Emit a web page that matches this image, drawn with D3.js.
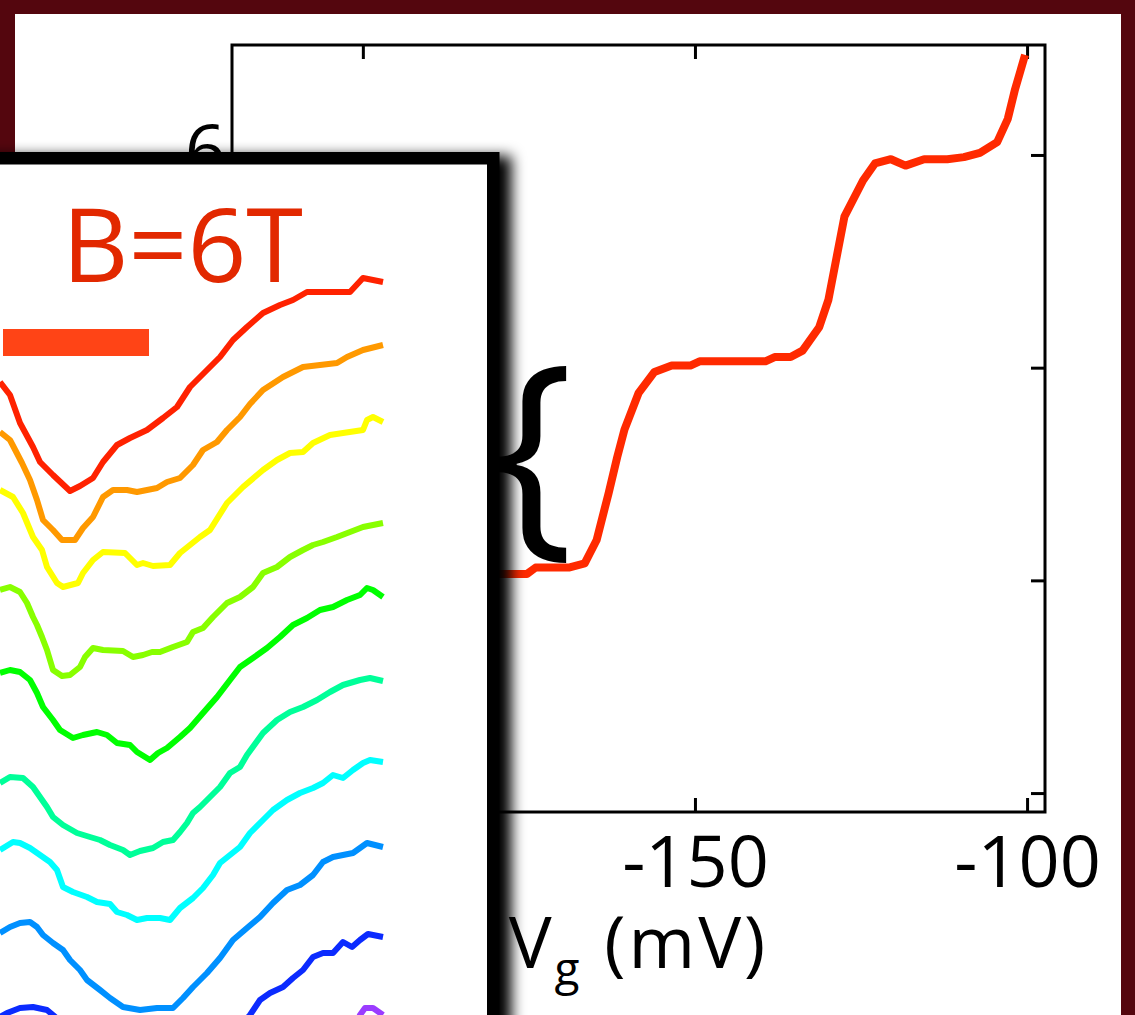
<!DOCTYPE html>
<html>
<head>
<meta charset="utf-8">
<script src="https://cdn.jsdelivr.net/npm/d3@7"></script>
<style>
  body { margin: 0; background: #fff; }
  svg { display: block; }
</style>
</head>
<body>
<div id="chart"></div>
<script>
const width = 1135;
const height = 1015;
const FONT = "'Open Sans', 'Noto Sans', sans-serif";

// main curve: gate voltage (mV) against conductance
const gateVoltage = [-188.4, -179.2, -175.3, -174.0, -169.0, -166.6, -164.8, -163.0, -161.7, -160.6,
  -158.5, -156.1, -153.5, -150.7, -149.3, -139.4, -138.0, -135.6, -133.8, -131.3,
  -129.9, -127.5, -124.7, -122.9, -120.5, -118.3, -115.5, -112.0, -109.5, -107.1,
  -104.5, -102.9, -101.8, -100.3];
const conductance = [4.03, 4.03, 4.03, 4.06, 4.06, 4.08, 4.19, 4.41, 4.58, 4.71,
  4.88, 4.98, 5.01, 5.01, 5.03, 5.03, 5.05, 5.05, 5.08, 5.19,
  5.32, 5.71, 5.88, 5.96, 5.98, 5.95, 5.98, 5.98, 5.99, 6.01,
  6.06, 6.17, 6.31, 6.47];
const xTicks = [-200, -150, -100];
const yTicks = [3, 4, 5, 6];

// inset: dI/dV traces (bias, signal) from top to bottom
const insetColors = ['#ff2200', '#ff9900', '#ffff00', '#88ff00', '#00ff00',
  '#00ff99', '#00ffff', '#0090ff', '#0b2bff', '#9b3cff'];
const traceRed = [[0, 6.33], [0.10, 6.20], [0.20, 5.92], [0.33, 5.68], [0.40, 5.53], [0.53, 5.40], [0.70, 5.24],
  [0.80, 5.29], [0.93, 5.37], [1.03, 5.53], [1.17, 5.70], [1.30, 5.77], [1.47, 5.85], [1.63, 5.97], [1.77, 6.08],
  [1.90, 6.28], [2.07, 6.45], [2.20, 6.58], [2.33, 6.75], [2.47, 6.88], [2.63, 7.02], [2.80, 7.10], [2.93, 7.15],
  [3.07, 7.23], [3.50, 7.23], [3.63, 7.37], [3.73, 7.35], [3.83, 7.33]];
const traceOrange = [[0, 5.83], [0.10, 5.75], [0.22, 5.52], [0.30, 5.35], [0.37, 5.15], [0.43, 4.95], [0.53, 4.85],
  [0.62, 4.75], [0.75, 4.75], [0.83, 4.87], [0.93, 4.98], [1.03, 5.18], [1.13, 5.25], [1.27, 5.25], [1.37, 5.23],
  [1.57, 5.27], [1.67, 5.33], [1.80, 5.37], [1.93, 5.50], [2.03, 5.65], [2.17, 5.73], [2.27, 5.85], [2.40, 5.98],
  [2.50, 6.11], [2.63, 6.25], [2.83, 6.38], [3.03, 6.48], [3.37, 6.52], [3.47, 6.58], [3.63, 6.65], [3.83, 6.70]];
const traceYellow = [[0, 5.25], [0.13, 5.18], [0.23, 5.02], [0.33, 4.78], [0.42, 4.65], [0.47, 4.48], [0.57, 4.32],
  [0.63, 4.28], [0.78, 4.32], [0.83, 4.42], [0.93, 4.55], [1.03, 4.63], [1.25, 4.62], [1.37, 4.50], [1.43, 4.52],
  [1.53, 4.49], [1.70, 4.50], [1.80, 4.62], [2.00, 4.78], [2.10, 4.85], [2.27, 5.12], [2.43, 5.28], [2.63, 5.45],
  [2.77, 5.55], [2.90, 5.62], [3.03, 5.63], [3.13, 5.72], [3.30, 5.80], [3.43, 5.82], [3.63, 5.85], [3.67, 5.95],
  [3.73, 5.98], [3.83, 5.93]];
const traceLime = [[0, 4.25], [0.10, 4.28], [0.20, 4.23], [0.27, 4.12], [0.33, 3.98], [0.37, 3.90], [0.42, 3.78],
  [0.47, 3.65], [0.53, 3.45], [0.62, 3.39], [0.70, 3.40], [0.80, 3.48], [0.85, 3.58], [0.93, 3.67], [1.03, 3.65],
  [1.23, 3.64], [1.33, 3.58], [1.43, 3.60], [1.52, 3.63], [1.60, 3.63], [1.73, 3.68], [1.87, 3.73], [1.93, 3.83],
  [2.03, 3.87], [2.13, 3.98], [2.27, 4.12], [2.40, 4.18], [2.53, 4.28], [2.63, 4.42], [2.77, 4.48], [2.90, 4.58],
  [3.03, 4.65], [3.13, 4.70], [3.23, 4.73], [3.37, 4.78], [3.50, 4.83], [3.63, 4.88], [3.83, 4.92]];
const traceGreen = [[0, 3.42], [0.10, 3.45], [0.20, 3.43], [0.30, 3.35], [0.37, 3.22], [0.43, 3.08], [0.53, 2.95],
  [0.60, 2.85], [0.73, 2.77], [0.83, 2.80], [0.97, 2.83], [1.07, 2.80], [1.17, 2.72], [1.30, 2.70], [1.37, 2.63],
  [1.50, 2.55], [1.58, 2.62], [1.67, 2.67], [1.80, 2.78], [1.90, 2.87], [2.03, 3.02], [2.17, 3.18], [2.30, 3.35],
  [2.40, 3.48], [2.53, 3.57], [2.67, 3.67], [2.80, 3.78], [2.93, 3.90], [3.07, 3.97], [3.20, 4.05], [3.33, 4.08],
  [3.47, 4.15], [3.60, 4.20], [3.67, 4.27], [3.73, 4.25], [3.83, 4.18]];
const traceSpring = [[0, 2.32], [0.10, 2.38], [0.23, 2.37], [0.33, 2.28], [0.40, 2.18], [0.47, 2.08], [0.53, 1.98],
  [0.63, 1.90], [0.77, 1.82], [0.90, 1.78], [1.00, 1.75], [1.10, 1.70], [1.23, 1.65], [1.30, 1.60], [1.40, 1.64],
  [1.53, 1.67], [1.63, 1.73], [1.73, 1.75], [1.80, 1.83], [1.87, 1.92], [1.93, 2.02], [2.00, 2.08], [2.10, 2.18],
  [2.20, 2.28], [2.30, 2.42], [2.40, 2.48], [2.47, 2.60], [2.63, 2.82], [2.77, 2.95], [2.90, 3.03], [3.03, 3.08],
  [3.17, 3.15], [3.30, 3.23], [3.43, 3.30], [3.60, 3.35], [3.70, 3.37], [3.83, 3.34]];
const traceCyan = [[0, 1.65], [0.13, 1.73], [0.20, 1.72], [0.30, 1.67], [0.40, 1.60], [0.50, 1.53], [0.57, 1.45],
  [0.63, 1.28], [0.73, 1.23], [0.87, 1.18], [0.97, 1.13], [1.10, 1.11], [1.17, 1.03], [1.27, 1.00], [1.37, 0.95],
  [1.47, 0.97], [1.60, 0.97], [1.70, 0.95], [1.80, 1.07], [1.93, 1.17], [2.03, 1.27], [2.13, 1.40], [2.20, 1.52],
  [2.30, 1.60], [2.40, 1.68], [2.50, 1.82], [2.63, 1.95], [2.73, 2.05], [2.87, 2.15], [3.00, 2.22], [3.13, 2.27],
  [3.23, 2.32], [3.33, 2.40], [3.43, 2.37], [3.53, 2.45], [3.63, 2.52], [3.70, 2.55], [3.83, 2.53]];
const traceAzure = [[0, 0.82], [0.10, 0.88], [0.20, 0.92], [0.30, 0.93], [0.37, 0.88], [0.43, 0.80], [0.53, 0.72],
  [0.63, 0.65], [0.70, 0.55], [0.80, 0.45], [0.87, 0.35], [1.00, 0.25], [1.10, 0.17], [1.23, 0.08], [1.40, 0.05],
  [1.57, 0.07], [1.73, 0.07], [1.83, 0.17], [1.93, 0.28], [2.07, 0.42], [2.20, 0.57], [2.33, 0.75], [2.47, 0.87],
  [2.60, 0.98], [2.73, 1.12], [2.87, 1.25], [3.00, 1.30], [3.13, 1.40], [3.23, 1.53], [3.33, 1.58], [3.53, 1.62],
  [3.67, 1.72], [3.83, 1.68]];
const traceBlue = [[0, -0.02], [0.07, 0.02], [0.20, 0.07], [0.33, 0.08], [0.47, 0.05], [0.53, 0.00], [0.70, -0.15],
  [1.00, -0.40], [1.40, -0.60], [1.80, -0.55], [2.20, -0.35], [2.50, 0.00], [2.60, 0.15], [2.70, 0.22], [2.83, 0.28],
  [2.93, 0.37], [3.03, 0.45], [3.13, 0.58], [3.23, 0.62], [3.33, 0.62], [3.43, 0.73], [3.52, 0.68], [3.60, 0.75],
  [3.68, 0.81], [3.83, 0.78]];
const tracePurple = [[3.00, -0.85], [3.40, -0.45], [3.60, 0.00], [3.65, 0.07], [3.73, 0.07], [3.83, 0.00]];
const insetTraces = [traceRed, traceOrange, traceYellow, traceLime, traceGreen,
  traceSpring, traceCyan, traceAzure, traceBlue, tracePurple];
const insetLabel = 'B=6T';
const scaleBar = [[0.03, 6.86], [1.49, 6.59]];

const svg = d3.select('#chart')
  .append('svg')
  .attr('width', width)
  .attr('height', height);

const defs = svg.append('defs');
defs.append('filter')
  .attr('id', 'shadow')
  .attr('x', '-20%').attr('y', '-20%')
  .attr('width', '140%').attr('height', '140%')
  .append('feDropShadow')
    .attr('dx', 12)
    .attr('dy', 4)
    .attr('stdDeviation', 7)
    .attr('flood-color', '#000')
    .attr('flood-opacity', 1);

// maroon frame round a white page
svg.append('rect').attr('width', width).attr('height', height).attr('fill', '#54060e');
svg.append('rect')
  .attr('x', 15).attr('y', 14)
  .attr('width', 1121 - 15).attr('height', height)
  .attr('fill', '#fff');

// ---- main plot ----
const plot = { left: 232, right: 1045, top: 45, bottom: 812 };
const x = d3.scaleLinear().domain([-219.7, -97.3]).range([plot.left, plot.right]);
const y = d3.scaleLinear().domain([2.911, 6.517]).range([plot.bottom, plot.top]);

const styleAxis = (g) => {
  g.select('.domain').remove();
  g.selectAll('line').attr('stroke', '#000').attr('stroke-width', 3);
  g.selectAll('text')
    .attr('font-family', FONT)
    .attr('font-size', 72)
    .attr('fill', '#000');
};

svg.append('g')
  .attr('transform', `translate(0,${plot.bottom})`)
  .call(d3.axisBottom(x).tickValues(xTicks).tickSize(-14).tickSizeOuter(0).tickFormat((d) => String(d)))
  .call(styleAxis)
  .call((g) => g.selectAll('text').attr('dy', null).attr('y', 75));

svg.append('g')
  .attr('transform', `translate(0,${plot.top})`)
  .call(d3.axisTop(x).tickValues(xTicks).tickSize(-14).tickSizeOuter(0).tickFormat(''))
  .call(styleAxis);

svg.append('g')
  .attr('transform', `translate(${plot.left},0)`)
  .call(d3.axisLeft(y).tickValues(yTicks).tickSize(-14).tickSizeOuter(0).tickFormat((d) => String(d)))
  .call(styleAxis)
  .call((g) => g.selectAll('text').attr('dy', null).attr('x', -6).attr('y', 21));

svg.append('g')
  .attr('transform', `translate(${plot.right},0)`)
  .call(d3.axisRight(y).tickValues(yTicks).tickSize(-14).tickSizeOuter(0).tickFormat(''))
  .call(styleAxis);

svg.append('rect')
  .attr('x', plot.left).attr('y', plot.top)
  .attr('width', plot.right - plot.left)
  .attr('height', plot.bottom - plot.top)
  .attr('fill', 'none')
  .attr('stroke', '#000')
  .attr('stroke-width', 3);

svg.append('path')
  .datum(d3.zip(gateVoltage, conductance))
  .attr('fill', 'none')
  .attr('stroke', '#ff2a00')
  .attr('stroke-width', 8)
  .attr('stroke-linejoin', 'round')
  .attr('d', d3.line().x((d) => x(d[0])).y((d) => y(d[1])));

// axis title with subscript
const title = svg.append('text')
  .attr('x', (plot.left + plot.right) / 2)
  .attr('y', 968)
  .attr('text-anchor', 'middle')
  .attr('font-family', FONT)
  .attr('font-size', 72)
  .attr('letter-spacing', 3)
  .attr('fill', '#000');
title.append('tspan').text('V');
title.append('tspan').attr('dy', 17).attr('font-size', 46).text('g');
title.append('tspan').attr('dy', -17).text('\u00a0(mV)');

// ---- inset ----
const inset = svg.append('g');
inset.append('rect')
  .attr('x', -40).attr('y', 158.25)
  .attr('width', 533.25).attr('height', 1000)
  .attr('fill', '#fff')
  .attr('stroke', '#000')
  .attr('stroke-width', 12.5)
  .attr('filter', 'url(#shadow)');

const ix = d3.scaleLinear().domain([0, 3.83]).range([0, 383]);
const iy = d3.scaleLinear().domain([0, 7.6]).range([1015, 255]);

inset.append('rect')
  .attr('x', ix(scaleBar[0][0]))
  .attr('y', iy(scaleBar[0][1]))
  .attr('width', ix(scaleBar[1][0]) - ix(scaleBar[0][0]))
  .attr('height', iy(scaleBar[1][1]) - iy(scaleBar[0][1]))
  .attr('fill', '#ff4416');

inset.append('text')
  .attr('x', 62).attr('y', 282)
  .attr('font-family', FONT)
  .attr('font-size', 103)
  .attr('fill', '#e22800')
  .text(insetLabel);

inset.selectAll('path.trace')
  .data(insetTraces)
  .join('path')
    .attr('class', 'trace')
    .attr('fill', 'none')
    .attr('stroke', (d, i) => insetColors[i])
    .attr('stroke-width', 6)
    .attr('stroke-linejoin', 'round')
    .attr('d', d3.line().x((d) => ix(d[0])).y((d) => iy(d[1])));

// brace marking the spin-split step
svg.append('text')
  .attr('x', 489).attr('y', 527)
  .attr('font-family', FONT)
  .attr('font-size', 225)
  .attr('fill', '#000')
  .text('{');
</script>
</body>
</html>
